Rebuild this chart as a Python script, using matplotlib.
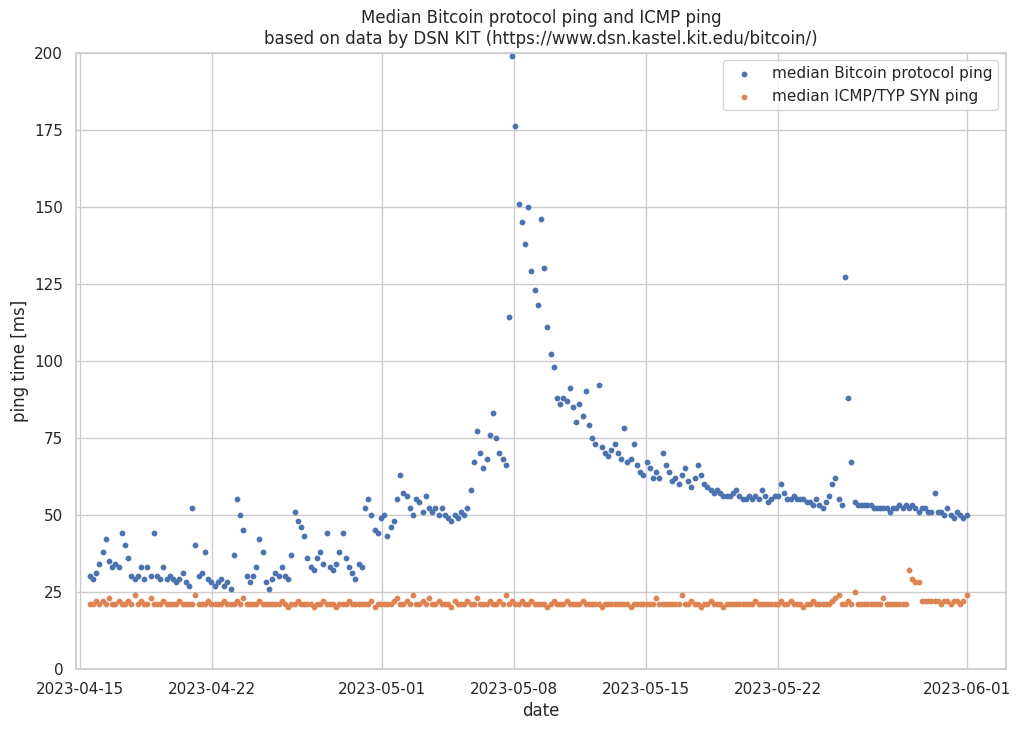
import matplotlib
matplotlib.use("Agg")
import matplotlib.pyplot as plt
import matplotlib.dates as mdates
import seaborn as sns
import pandas as pd

sns.set_theme(style="whitegrid")

start_time = "2023-04-15 12:00"
end_time = "2023-06-01 00:00"

bitcoin_ping = [
    30, 29, 31,
    34, 38, 42, 35, 33, 34,
    33, 44, 40, 36, 30, 29,
    30, 33, 29, 33, 30, 44,
    30, 29, 33, 29, 30, 29,
    28, 29, 31, 28, 27, 52,
    40, 30, 31, 38, 29, 28,
    27, 28, 29, 27, 28, 26,
    37, 55, 50, 45, 30, 28,
    30, 33, 42, 38, 28, 26,
    29, 31, 30, 33, 30, 29,
    37, 51, 48, 46, 43, 36,
    33, 32, 36, 38, 34, 44,
    33, 32, 34, 38, 44, 36,
    33, 31, 29, 34, 33, 52,
    55, 50, 45, 44, 49, 50,
    43, 46, 48, 55, 63, 57,
    56, 52, 50, 55, 54, 51,
    56, 52, 51, 52, 50, 52,
    50, 49, 48, 50, 49, 51,
    50, 52, 58, 67, 77, 70,
    65, 68, 76, 83, 75, 70,
    68, 66, 114, 199, 176, 151,
    145, 138, 150, 129, 123, 118,
    146, 130, 111, 102, 98, 88,
    86, 88, 87, 91, 85, 80,
    86, 82, 90, 79, 75, 73,
    92, 72, 70, 69, 71, 73,
    70, 68, 78, 67, 68, 73,
    66, 64, 63, 67, 65, 62,
    64, 62, 70, 66, 64, 61,
    62, 60, 63, 65, 61, 59,
    62, 66, 63, 60, 59, 58,
    57, 58, 57, 56, 56, 56,
    57, 58, 56, 55, 55, 56,
    55, 56, 55, 58, 56, 54,
    55, 56, 56, 60, 57, 55,
    55, 56, 55, 55, 55, 54,
    54, 53, 55, 53, 52, 54,
    56, 60, 62, 55, 53, 127,
    88, 67, 54, 53, 53, 53,
    53, 53, 52, 52, 52, 52,
    52, 51, 52, 52, 53, 52,
    53, 52, 53, 52, 51, 52,
    52, 51, 51, 57, 51, 51,
    50, 52, 50, 49, 51, 50,
    49, 50,
]

icmp_ping = [
    21, 21, 22,
    21, 22, 21, 23, 21, 21,
    22, 21, 21, 22, 21, 24,
    21, 22, 21, 21, 23, 21,
    21, 21, 22, 21, 21, 21,
    21, 22, 21, 21, 21, 21,
    24, 21, 21, 21, 22, 21,
    21, 21, 21, 22, 21, 21,
    21, 22, 21, 23, 21, 21,
    21, 21, 22, 21, 21, 21,
    21, 21, 21, 22, 21, 20,
    21, 21, 22, 21, 21, 21,
    21, 20, 21, 21, 22, 21,
    21, 21, 20, 21, 21, 21,
    22, 21, 21, 21, 21, 21,
    21, 22, 20, 21, 21, 21,
    21, 21, 22, 23, 21, 21,
    22, 21, 24, 21, 21, 22,
    21, 23, 21, 21, 22, 21,
    21, 21, 20, 22, 21, 21,
    21, 22, 21, 21, 23, 21,
    21, 21, 22, 21, 21, 22,
    21, 24, 21, 22, 21, 21,
    22, 21, 21, 22, 21, 21,
    21, 21, 20, 21, 22, 21,
    21, 21, 22, 21, 21, 21,
    21, 22, 21, 21, 21, 21,
    21, 20, 21, 21, 21, 21,
    21, 21, 21, 21, 20, 21,
    21, 21, 21, 21, 21, 21,
    23, 21, 21, 21, 21, 21,
    21, 21, 24, 21, 21, 22,
    21, 21, 20, 21, 21, 22,
    21, 21, 21, 20, 21, 21,
    21, 21, 21, 21, 21, 21,
    21, 22, 21, 21, 21, 21,
    21, 21, 21, 22, 21, 21,
    22, 21, 21, 21, 20, 21,
    21, 22, 21, 21, 21, 21,
    21, 22, 23, 24, 21, 21,
    22, 21, 25, 21, 21, 21,
    21, 21, 21, 21, 21, 23,
    21, 21, 21, 21, 21, 21,
    21, 32, 29, 28, 28, 22,
    22, 22, 22, 22, 22, 21,
    22, 22, 21, 22, 22, 21,
    22, 24,
]

dates = pd.date_range(start_time, end_time, periods=len(bitcoin_ping))

fig, ax = plt.subplots(figsize=(10.18, 7.3), dpi=100)
ax.scatter(dates, bitcoin_ping, s=10, color="#4c72b0", label="median Bitcoin protocol ping")
ax.scatter(dates, icmp_ping, s=10, color="#dd8452", label="median ICMP/TYP SYN ping")
ax.set_ylim(0, 200)
ax.set_xlim(pd.Timestamp("2023-04-14 19:00"), pd.Timestamp("2023-06-03 02:00"))
ax.xaxis.set_major_locator(mdates.DayLocator(bymonthday=[1, 8, 15, 22]))
ax.xaxis.set_major_formatter(mdates.DateFormatter("%Y-%m-%d"))
ax.set_xlabel("date")
ax.set_ylabel("ping time [ms]")
ax.set_title("Median Bitcoin protocol ping and ICMP ping\nbased on data by DSN KIT (https://www.dsn.kastel.kit.edu/bitcoin/)")
ax.legend(loc="upper right")
fig.subplots_adjust(left=0.075, right=0.988, top=0.928, bottom=0.084)
fig.savefig("out.png")
